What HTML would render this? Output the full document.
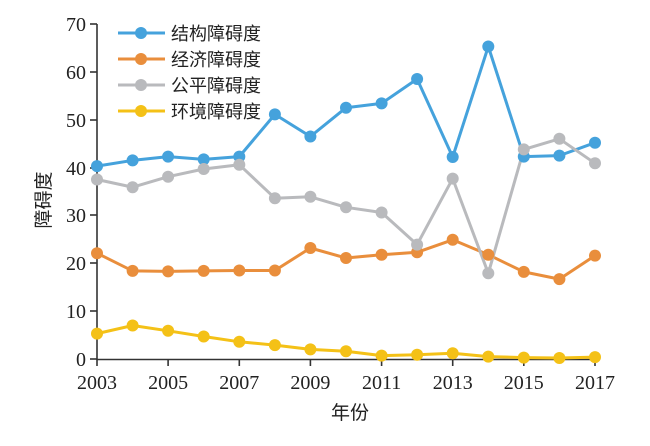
<!DOCTYPE html>
<html><head><meta charset="utf-8"><style>
html,body{margin:0;padding:0;background:#fff;}
svg{display:block;}
text{font-family:"Liberation Serif","Noto Serif CJK SC",serif;fill:#222;}
.cj{font-family:"Liberation Sans","Noto Sans CJK SC",sans-serif;}
</style></head><body>
<svg width="650" height="446" viewBox="0 0 650 446" xmlns="http://www.w3.org/2000/svg">
<g stroke="#333" stroke-width="1.6" fill="none">
<line x1="97" y1="24" x2="97" y2="360"/>
<line x1="97" y1="359.5" x2="596" y2="359.5"/>
<line x1="90" y1="24" x2="97" y2="24"/>
<line x1="90" y1="72" x2="97" y2="72"/>
<line x1="90" y1="120" x2="97" y2="120"/>
<line x1="90" y1="168" x2="97" y2="168"/>
<line x1="90" y1="215" x2="97" y2="215"/>
<line x1="90" y1="263" x2="97" y2="263"/>
<line x1="90" y1="311" x2="97" y2="311"/>
<line x1="90" y1="359" x2="97" y2="359"/>
<line x1="97" y1="359" x2="97" y2="366"/>
<line x1="168.1" y1="359" x2="168.1" y2="366"/>
<line x1="239.3" y1="359" x2="239.3" y2="366"/>
<line x1="310.4" y1="359" x2="310.4" y2="366"/>
<line x1="381.6" y1="359" x2="381.6" y2="366"/>
<line x1="452.7" y1="359" x2="452.7" y2="366"/>
<line x1="523.8" y1="359" x2="523.8" y2="366"/>
<line x1="595" y1="359" x2="595" y2="366"/>
</g>
<g font-size="20" text-anchor="end">
<text x="86" y="31">70</text><text x="86" y="79">60</text><text x="86" y="127">50</text>
<text x="86" y="175">40</text><text x="86" y="222">30</text><text x="86" y="270">20</text>
<text x="86" y="318">10</text><text x="86" y="366">0</text>
</g>
<g font-size="20" text-anchor="middle">
<text x="97" y="389">2003</text><text x="168.1" y="389">2005</text><text x="239.3" y="389">2007</text>
<text x="310.4" y="389">2009</text><text x="381.6" y="389">2011</text><text x="452.7" y="389">2013</text>
<text x="523.8" y="389">2015</text><text x="595" y="389">2017</text>
</g>
<text class="cj" x="350" y="419" font-size="19" text-anchor="middle">年份</text>
<text class="cj" transform="translate(50,200) rotate(-90)" font-size="19" text-anchor="middle">障碍度</text>

<g fill="none" stroke-width="3" stroke-linejoin="round">
<polyline stroke="#45a2dc" points="97,166.1 132.6,160.4 168.1,156.6 203.7,159.4 239.3,156.6 274.9,114.4 310.4,136.5 346,107.7 381.6,103.4 417.1,79 452.7,157 488.3,46.5 523.8,156.6 559.4,155.6 595,142.7"/>
<polyline stroke="#e98e3c" points="97,253.2 132.6,270.9 168.1,271.4 203.7,270.9 239.3,270.5 274.9,270.5 310.4,248 346,258 381.6,254.7 417.1,252.3 452.7,239.8 488.3,254.7 523.8,271.9 559.4,279.1 595,255.6"/>
<polyline stroke="#b9babd" points="97,179.5 132.6,187.2 168.1,176.7 203.7,169 239.3,164.7 274.9,198.2 310.4,196.8 346,207.3 381.6,212.5 417.1,244.6 452.7,178.6 488.3,273.3 523.8,149.4 559.4,138.8 595,163.3"/>
<polyline stroke="#f4c117" points="97,333.6 132.6,325.5 168.1,330.8 203.7,336.5 239.3,341.8 274.9,345.1 310.4,349.4 346,351.3 381.6,355.6 417.1,354.7 452.7,353.3 488.3,356.6 523.8,357.6 559.4,358 595,357.1"/>
</g>
<g fill="#45a2dc">
<circle cx="97" cy="166.1" r="6"/><circle cx="132.6" cy="160.4" r="6"/><circle cx="168.1" cy="156.6" r="6"/><circle cx="203.7" cy="159.4" r="6"/><circle cx="239.3" cy="156.6" r="6"/><circle cx="274.9" cy="114.4" r="6"/><circle cx="310.4" cy="136.5" r="6"/><circle cx="346" cy="107.7" r="6"/><circle cx="381.6" cy="103.4" r="6"/><circle cx="417.1" cy="79" r="6"/><circle cx="452.7" cy="157" r="6"/><circle cx="488.3" cy="46.5" r="6"/><circle cx="523.8" cy="156.6" r="6"/><circle cx="559.4" cy="155.6" r="6"/><circle cx="595" cy="142.7" r="6"/>
</g>
<g fill="#e98e3c">
<circle cx="97" cy="253.2" r="6"/><circle cx="132.6" cy="270.9" r="6"/><circle cx="168.1" cy="271.4" r="6"/><circle cx="203.7" cy="270.9" r="6"/><circle cx="239.3" cy="270.5" r="6"/><circle cx="274.9" cy="270.5" r="6"/><circle cx="310.4" cy="248" r="6"/><circle cx="346" cy="258" r="6"/><circle cx="381.6" cy="254.7" r="6"/><circle cx="417.1" cy="252.3" r="6"/><circle cx="452.7" cy="239.8" r="6"/><circle cx="488.3" cy="254.7" r="6"/><circle cx="523.8" cy="271.9" r="6"/><circle cx="559.4" cy="279.1" r="6"/><circle cx="595" cy="255.6" r="6"/>
</g>
<g fill="#b9babd">
<circle cx="97" cy="179.5" r="6"/><circle cx="132.6" cy="187.2" r="6"/><circle cx="168.1" cy="176.7" r="6"/><circle cx="203.7" cy="169" r="6"/><circle cx="239.3" cy="164.7" r="6"/><circle cx="274.9" cy="198.2" r="6"/><circle cx="310.4" cy="196.8" r="6"/><circle cx="346" cy="207.3" r="6"/><circle cx="381.6" cy="212.5" r="6"/><circle cx="417.1" cy="244.6" r="6"/><circle cx="452.7" cy="178.6" r="6"/><circle cx="488.3" cy="273.3" r="6"/><circle cx="523.8" cy="149.4" r="6"/><circle cx="559.4" cy="138.8" r="6"/><circle cx="595" cy="163.3" r="6"/>
</g>
<g fill="#f4c117">
<circle cx="97" cy="333.6" r="6"/><circle cx="132.6" cy="325.5" r="6"/><circle cx="168.1" cy="330.8" r="6"/><circle cx="203.7" cy="336.5" r="6"/><circle cx="239.3" cy="341.8" r="6"/><circle cx="274.9" cy="345.1" r="6"/><circle cx="310.4" cy="349.4" r="6"/><circle cx="346" cy="351.3" r="6"/><circle cx="381.6" cy="355.6" r="6"/><circle cx="417.1" cy="354.7" r="6"/><circle cx="452.7" cy="353.3" r="6"/><circle cx="488.3" cy="356.6" r="6"/><circle cx="523.8" cy="357.6" r="6"/><circle cx="559.4" cy="358" r="6"/><circle cx="595" cy="357.1" r="6"/>
</g>

<g stroke-width="3">
<line x1="118" y1="33" x2="165" y2="33" stroke="#45a2dc"/><circle cx="141" cy="33" r="6" fill="#45a2dc"/>
<line x1="118" y1="59" x2="165" y2="59" stroke="#e98e3c"/><circle cx="141" cy="59" r="6" fill="#e98e3c"/>
<line x1="118" y1="85" x2="165" y2="85" stroke="#b9babd"/><circle cx="141" cy="85" r="6" fill="#b9babd"/>
<line x1="118" y1="111" x2="165" y2="111" stroke="#f4c117"/><circle cx="141" cy="111" r="6" fill="#f4c117"/>
</g>
<g font-size="18">
<text class="cj" x="171" y="40">结构障碍度</text>
<text class="cj" x="171" y="66">经济障碍度</text>
<text class="cj" x="171" y="92">公平障碍度</text>
<text class="cj" x="171" y="118">环境障碍度</text>
</g>
</svg>
</body></html>
